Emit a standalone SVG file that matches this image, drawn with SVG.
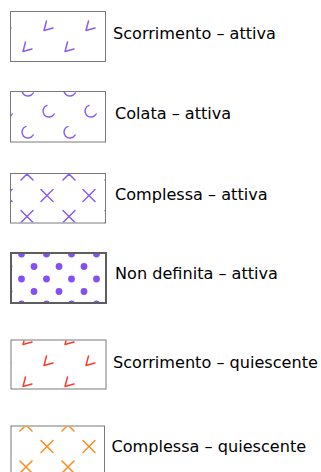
<svg xmlns="http://www.w3.org/2000/svg" xmlns:xlink="http://www.w3.org/1999/xlink" width="321" height="472" viewBox="0 0 321 472">
<style>
.box{fill:#fff;stroke:#7a7a7a;stroke-width:1}
.box4{fill:#fff;stroke:#5e5e5e;stroke-width:2}
.lbl{font-family:"DejaVu Sans",Verdana,sans-serif;font-size:16.1px;fill:#000}
.pu{fill:none;stroke:#8a5cf6;stroke-width:1.5;stroke-linecap:round;stroke-linejoin:round}
.rd{fill:none;stroke:#ff3b2b;stroke-width:1.5;stroke-linecap:round;stroke-linejoin:round}
.or{fill:none;stroke:#ff8c1f;stroke-width:1.5;stroke-linecap:round}
.dot{fill:#8250f3}
</style>
<defs>
<path id="gL" d="M -0.5 -5 L -3 4.5 L 6 2"/>
<path id="gC" d="M -2 -5.6 A 6 6 0 1 0 5.2 3"/>
<path id="gX" d="M -6 -6 L 6 6 M -6 6 L 6 -6"/>
<clipPath id="c1"><rect x="11" y="12" width="94" height="49"/></clipPath>
<clipPath id="c2"><rect x="11" y="92" width="94" height="50"/></clipPath>
<clipPath id="c3"><rect x="11" y="174" width="94" height="48.5"/></clipPath>
<clipPath id="c4"><rect x="11" y="253" width="95" height="50"/></clipPath>
<clipPath id="c5"><rect x="11.5" y="340.5" width="94" height="48"/></clipPath>
<clipPath id="c6"><rect x="11.5" y="426.5" width="92.5" height="50"/></clipPath>
</defs>

<g id="scorrimento-attiva">
<rect class="box" x="10.5" y="11.5" width="95" height="50"/>
<g class="pu" clip-path="url(#c1)">
<use href="#gL" x="5" y="26"/><use href="#gL" x="47" y="26"/><use href="#gL" x="89" y="26"/>
<use href="#gL" x="26" y="47"/><use href="#gL" x="68" y="47"/><use href="#gL" x="110" y="47"/>
</g>
<text class="lbl" x="113" y="39">Scorrimento – attiva</text>
</g>

<g id="colata-attiva">
<rect class="box" x="10.5" y="91.5" width="95" height="50.5"/>
<g class="pu" clip-path="url(#c2)">
<use href="#gC" x="28" y="90"/><use href="#gC" x="70" y="90"/>
<use href="#gC" x="7" y="111"/><use href="#gC" x="49" y="111"/><use href="#gC" x="91" y="111"/>
<use href="#gC" x="28" y="132"/><use href="#gC" x="70" y="132"/>
</g>
<text class="lbl" x="115" y="119">Colata – attiva</text>
</g>

<g id="complessa-attiva">
<rect class="box" x="10.5" y="173.5" width="95" height="49.5"/>
<g class="pu" clip-path="url(#c3)">
<use href="#gX" x="27" y="174"/><use href="#gX" x="69" y="174"/><use href="#gX" x="111" y="174"/>
<use href="#gX" x="6" y="195.5"/><use href="#gX" x="47" y="195.5"/><use href="#gX" x="89" y="195.5"/>
<use href="#gX" x="27" y="216.5"/><use href="#gX" x="69" y="216.5"/><use href="#gX" x="111" y="216.5"/>
</g>
<text class="lbl" x="115" y="200">Complessa – attiva</text>
</g>

<g id="non-definita-attiva">
<rect class="box4" x="11" y="253" width="95" height="50"/>
<g class="dot" clip-path="url(#c4)">
<circle cx="21.5" cy="254" r="3.4"/><circle cx="46.5" cy="254" r="3.4"/><circle cx="71.5" cy="254" r="3.4"/><circle cx="96.5" cy="254" r="3.4"/>
<circle cx="9" cy="266.5" r="3.4"/><circle cx="34" cy="266.5" r="3.4"/><circle cx="59" cy="266.5" r="3.4"/><circle cx="84" cy="266.5" r="3.4"/><circle cx="109" cy="266.5" r="3.4"/>
<circle cx="21.5" cy="279" r="3.4"/><circle cx="46.5" cy="279" r="3.4"/><circle cx="71.5" cy="279" r="3.4"/><circle cx="96.5" cy="279" r="3.4"/>
<circle cx="9" cy="291.5" r="3.4"/><circle cx="34" cy="291.5" r="3.4"/><circle cx="59" cy="291.5" r="3.4"/><circle cx="84" cy="291.5" r="3.4"/><circle cx="109" cy="291.5" r="3.4"/>
<circle cx="21.5" cy="304" r="3.4"/><circle cx="46.5" cy="304" r="3.4"/><circle cx="71.5" cy="304" r="3.4"/><circle cx="96.5" cy="304" r="3.4"/>
</g>
<rect class="box4" x="11" y="253" width="95" height="50" style="fill:none"/>
<text class="lbl" x="115" y="279">Non definita – attiva</text>
</g>

<g id="scorrimento-quiescente">
<rect class="box" x="11" y="340" width="95" height="49"/>
<g class="rd" clip-path="url(#c5)">
<use href="#gL" x="26" y="340"/><use href="#gL" x="68" y="340"/>
<use href="#gL" x="5" y="361"/><use href="#gL" x="47" y="361"/><use href="#gL" x="89" y="361"/>
<use href="#gL" x="26" y="382"/><use href="#gL" x="68" y="382"/>
</g>
<text class="lbl" x="113" y="368">Scorrimento – quiescente</text>
</g>

<g id="complessa-quiescente">
<rect class="box" x="11" y="426" width="93.5" height="50"/>
<g class="or" clip-path="url(#c6)">
<use href="#gX" x="26" y="425"/><use href="#gX" x="68" y="425"/>
<use href="#gX" x="5" y="446.5"/><use href="#gX" x="47" y="446.5"/><use href="#gX" x="89" y="446.5"/>
<use href="#gX" x="26" y="467"/><use href="#gX" x="68" y="467"/>
</g>
<text class="lbl" x="111.5" y="452">Complessa – quiescente</text>
</g>

<g id="connectors"/>
</svg>
